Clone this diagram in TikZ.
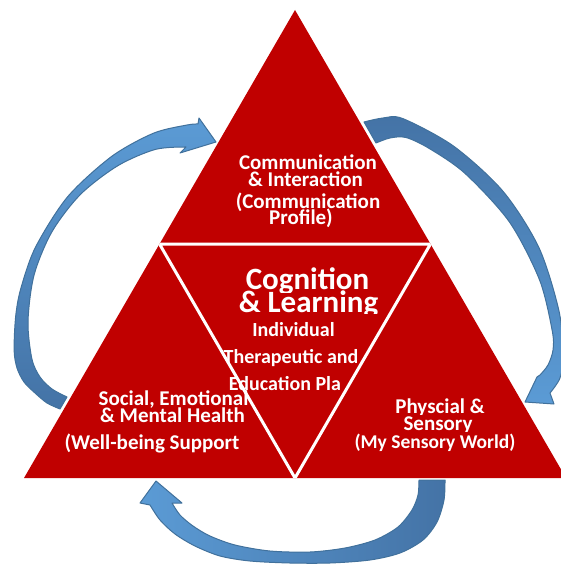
\documentclass[tikz,border=0pt]{standalone}
\usepackage{fontspec}
\setmainfont{Carlito}
\definecolor{trired}{HTML}{C00000}
\definecolor{alight}{HTML}{5B9BD5}
\definecolor{adark}{HTML}{4473A6}
\definecolor{aline}{HTML}{41719C}
\begin{document}
\begin{tikzpicture}[x=1pt,y=-1pt,
  txt/.style={text=white, inner sep=0pt, anchor=base},
  fA/.style={font=\fontsize{21}{21}\selectfont\bfseries},
  fB/.style={font=\fontsize{31}{31}\selectfont\bfseries},
  fC/.style={font=\fontsize{20}{20}\selectfont\bfseries},
  fD/.style={font=\fontsize{19.5}{19.5}\selectfont\bfseries},
  barrow/.style={draw=aline, line width=1pt, line join=round},
  sep/.style={draw=white, line width=3pt, line join=miter}]
\useasboundingbox (0,0) rectangle (561,564);
\clip (0,0) rectangle (561,564);

% curved arrows
\shadedraw[barrow, top color=alight, bottom color=adark]
  plot[smooth] coordinates {(60,409) (47,403) (35,393) (24,382) (17,368) (14.1,350) (15.7,316.1) (20.8,288.6) (35.5,247.2) (67.6,196.8) (111.7,156.4) (153.5,133.2) (187,125) (198,124)}
  -- (199,118) -- (216,142) -- (180,153) -- (186,147)
  -- plot[smooth] coordinates {(186,147) (155.4,149.4) (118,165.6) (80.7,194.2) (52.1,231.5) (34.1,274.9) (28,321.5) (31.9,358.9) (40,377) (52,389) (67,397)}
  -- cycle;
\shadedraw[barrow, top color=adark, bottom color=alight]
  plot[smooth] coordinates {(364,122) (383,118) (402.9,118.6) (453.8,146.3) (503.1,191.4) (539,247.8) (559.1,311.5) (563,356) (560,378) (550,393)}
  -- (554,404) -- (525,402) -- (537,377) -- (540,375)
  -- plot[smooth] coordinates {(540,375) (548,365) (553,350) (552.2,330.6) (539.5,279.8) (509.3,221.8) (465.1,173.5) (429.3,148.5) (406,137.5) (390,138) (376,143)}
  -- cycle;
\shadedraw[barrow, left color=alight, right color=adark]
  plot[smooth] coordinates {(445,480) (444,500) (437,522) (423,540) (400,553) (370,560) (330,563) (290,563) (250,561) (220,556) (195,546) (175,534) (160,520) (150,505)}
  -- (140,503) -- (156,481) -- (182,503) -- (172,503)
  -- plot[smooth] coordinates {(172,503) (180,515) (193,526) (210,536) (235,545) (270,551) (310,552) (345,548) (375,540) (398,527) (412,510) (418,495) (419,480)}
  -- cycle;

% triangle
\coordinate (A) at (295,10);
\coordinate (L) at (24,478);
\coordinate (R) at (566,478);
\coordinate (ML) at (159.5,244);
\coordinate (MR) at (430.5,244);
\coordinate (MB) at (295,478);
\fill[trired] (A) -- (R) -- (L) -- cycle;

% top texts
\node[txt,fA] (c1) at (308,170) {Communication};
\node[txt,fA] (c2) at (305.5,186) {\& Interaction};
\node[txt,fA] (c3) at (308,208) {(Communication};
\node[txt,fA] (c4) at (301,224) {Profile)};

% middle texts
\begin{scope}
  \clip (0,0) rectangle (561,292);
  \node[txt,fB] (g1) at (307.5,289) {Cognition};
\end{scope}
\begin{scope}
  \clip (0,0) rectangle (561,313);
  \node[txt,fB] (g2) at (308.5,312) {\& Learning};
\end{scope}
\node[txt,fC] (g3) at (293.5,336) {Individual};
\node[txt,fC] (g4) at (291,363) {Therapeutic and};
\node[txt,fC] (g5) at (285,390) {Education Pla};

% bottom-left texts
\node[txt,fA] (s1) at (173.5,405.7) {Social, Emotional};
\node[txt,fA] (s2) at (172.5,422.3) {\& Mental Health};
\node[txt,fA] (s3) at (152,449) {(Well-being Support};

% bottom-right texts
\begin{scope}
  \clip (0,0) rectangle (561,414);
  \node[txt,fA] (p1) at (440,413) {Physcial \&};
\end{scope}
\begin{scope}
  \clip (0,0) rectangle (561,431);
  \node[txt,fA] (p2) at (438,430) {Sensory};
\end{scope}
\node[txt,fD] (p3) at (435,448) {(My Sensory World)};

% separators
\begin{scope}
  \clip (A) -- (R) -- (L) -- cycle;
  \draw[sep] (ML) -- (MR) -- (MB) -- cycle;
\end{scope}
\end{tikzpicture}
\end{document}
